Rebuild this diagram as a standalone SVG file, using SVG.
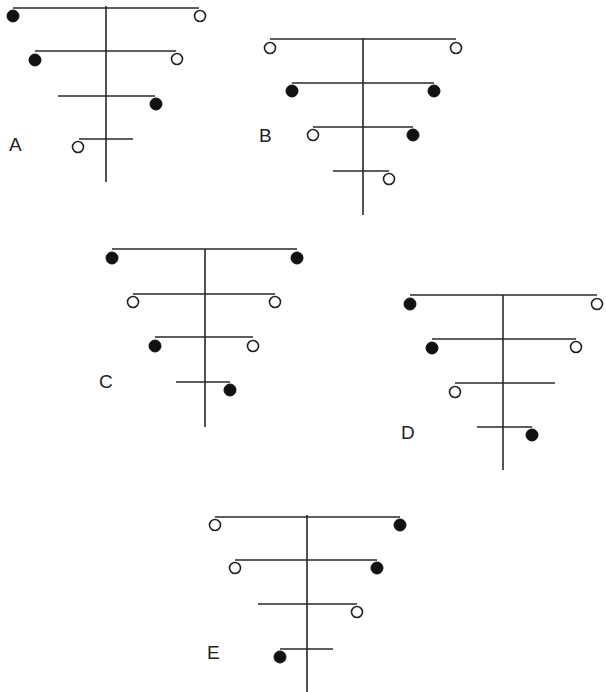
<svg xmlns="http://www.w3.org/2000/svg" width="606" height="692" viewBox="0 0 606 692">
<style>
.ln{stroke:#2a2a2a;stroke-width:1.6;fill:none}
.f{fill:#111;stroke:#111;stroke-width:1}
.o{fill:#fff;stroke:#222;stroke-width:1.6}
.lb{font-family:"Liberation Sans",Arial,sans-serif;font-size:19px;fill:#222}
</style>
<rect width="606" height="692" fill="#fff"/>
<g id="figA">
<path class="ln" d="M106,6V182M13,8H199M35,51H176M58,96H155M79,139H133"/>
<circle class="f" cx="13" cy="16" r="6"/><circle class="o" cx="200" cy="16" r="5.5"/>
<circle class="f" cx="35" cy="60" r="6"/><circle class="o" cx="177" cy="59" r="5.5"/>
<circle class="f" cx="156" cy="104" r="6"/>
<circle class="o" cx="78" cy="147" r="5.5"/>
<text class="lb" x="9" y="151">A</text>
</g>
<g id="figB">
<path class="ln" d="M363,38V215M270,39H456M292,83H434M313,127H413M333,171H389"/>
<circle class="o" cx="270" cy="48" r="5.5"/><circle class="o" cx="456" cy="48" r="5.5"/>
<circle class="f" cx="292" cy="91" r="6"/><circle class="f" cx="434" cy="91" r="6"/>
<circle class="o" cx="313" cy="135" r="5.5"/><circle class="f" cx="413" cy="135" r="6"/>
<circle class="o" cx="389" cy="179" r="5.5"/>
<text class="lb" x="259" y="142">B</text>
</g>
<g id="figC">
<path class="ln" d="M205,249V427M112,249H297M133,294H275M155,337H253M176,382H230"/>
<circle class="f" cx="112" cy="258" r="6"/><circle class="f" cx="297" cy="258" r="6"/>
<circle class="o" cx="133" cy="302" r="5.5"/><circle class="o" cx="275" cy="302" r="5.5"/>
<circle class="f" cx="155" cy="346" r="6"/><circle class="o" cx="253" cy="346" r="5.5"/>
<circle class="f" cx="230" cy="390" r="6"/>
<text class="lb" x="99" y="388">C</text>
</g>
<g id="figD">
<path class="ln" d="M503,295V470M410,295H597M432,339H576M455,383H555M477,427H532"/>
<circle class="f" cx="410" cy="304" r="6"/><circle class="o" cx="597" cy="304" r="5.5"/>
<circle class="f" cx="432" cy="348" r="6"/><circle class="o" cx="576" cy="347" r="5.5"/>
<circle class="o" cx="455" cy="392" r="5.5"/>
<circle class="f" cx="532" cy="435" r="6"/>
<text class="lb" x="401" y="439">D</text>
</g>
<g id="figE">
<path class="ln" d="M307,515V692M215,517H400M235,560H377M258,604H357M280,649H333"/>
<circle class="o" cx="215" cy="525" r="5.5"/><circle class="f" cx="400" cy="525" r="6"/>
<circle class="o" cx="235" cy="568" r="5.5"/><circle class="f" cx="377" cy="568" r="6"/>
<circle class="o" cx="357" cy="612" r="5.5"/>
<circle class="f" cx="280" cy="657" r="6"/>
<text class="lb" x="207" y="659">E</text>
</g>
</svg>
